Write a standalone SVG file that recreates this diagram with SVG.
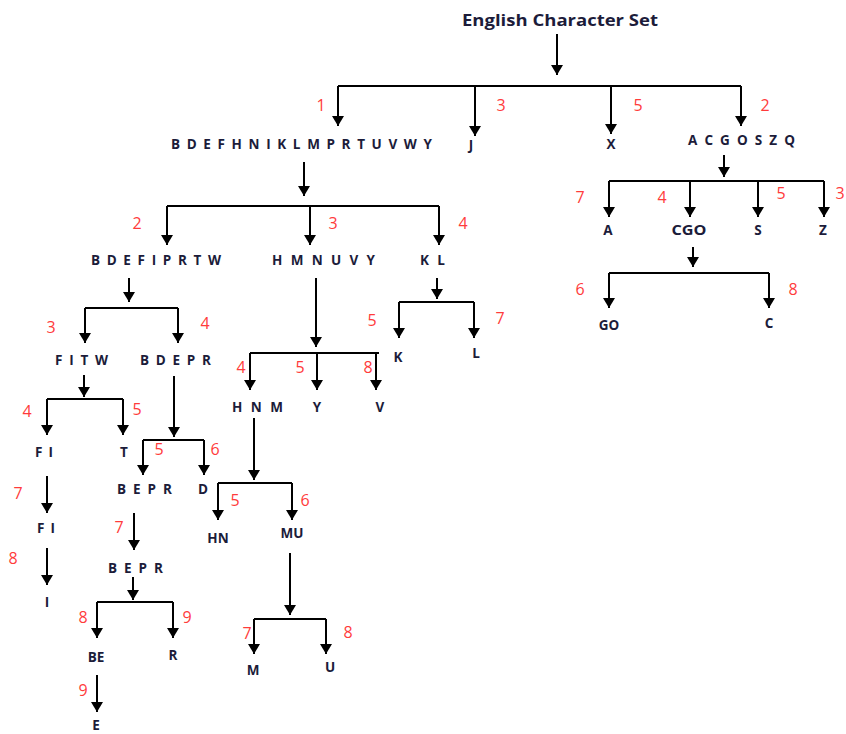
<svg xmlns="http://www.w3.org/2000/svg" width="846" height="734" viewBox="0 0 846 734">
<defs>
<marker id="ah" markerUnits="userSpaceOnUse" markerWidth="12" markerHeight="12" refX="10" refY="6" orient="auto">
<path d="M0,0 L10,6 L0,12 z" fill="#000"/>
</marker>
<style>
.n{font-family:"Open Sans","Liberation Sans",sans-serif;font-weight:bold;font-size:13.5px;fill:#1c1c3a}
.c{text-anchor:middle}
.r{font-family:"Open Sans","Liberation Sans",sans-serif;font-size:16px;fill:#ff3b3b;text-anchor:middle}
.t{font-family:"Open Sans","Liberation Sans",sans-serif;font-weight:bold;font-size:15.5px;fill:#1c1c3a}
.s{stroke:#000;stroke-width:2;fill:none}
.a{stroke:#000;stroke-width:2;fill:none;marker-end:url(#ah)}
</style>
</defs>
<rect width="846" height="734" fill="#fff"/>
<g id="connectors">
<path class="a" d="M557,34V75"/>
<path class="s" d="M338,86H741"/>
<path class="a" d="M338,86V126"/><path class="a" d="M475,86V136"/><path class="a" d="M611,86V134"/><path class="a" d="M741,86V126"/>
<path class="a" d="M304,162V196"/>
<path class="s" d="M167,206H439"/>
<path class="a" d="M167,206V245"/><path class="a" d="M310,206V245"/><path class="a" d="M439,206V245"/>
<path class="a" d="M724,155V177"/>
<path class="s" d="M609,181H824"/>
<path class="a" d="M609,181V217"/><path class="a" d="M690,181V217"/><path class="a" d="M758,181V217"/><path class="a" d="M824,181V217"/>
<path class="a" d="M693,247V267"/>
<path class="s" d="M609,273H769"/>
<path class="a" d="M609,273V308"/><path class="a" d="M769,273V308"/>
<path class="a" d="M129,278V302"/>
<path class="s" d="M85,308H178"/>
<path class="a" d="M85,308V343"/><path class="a" d="M178,308V343"/>
<path class="a" d="M316,278V347"/>
<path class="s" d="M250,353H379"/>
<path class="a" d="M250,353V390"/><path class="a" d="M317,353V390"/><path class="a" d="M376,353V390"/>
<path class="a" d="M437,278V299"/>
<path class="s" d="M399,302H474"/>
<path class="a" d="M399,302V338"/><path class="a" d="M474,302V338"/>
<path class="a" d="M84,375V397"/>
<path class="s" d="M47,399H123"/>
<path class="a" d="M47,399V435"/><path class="a" d="M123,399V435"/>
<path class="a" d="M174,376V437"/>
<path class="s" d="M143,440H204"/>
<path class="a" d="M143,440V475"/><path class="a" d="M204,440V475"/>
<path class="a" d="M254,418V480"/>
<path class="s" d="M218,483H292"/>
<path class="a" d="M218,483V520"/><path class="a" d="M292,483V520"/>
<path class="a" d="M47,476V513"/>
<path class="a" d="M47,548V585"/>
<path class="a" d="M134,513V550"/>
<path class="a" d="M133,577V600"/>
<path class="s" d="M97,602H173"/>
<path class="a" d="M97,602V638"/><path class="a" d="M173,602V638"/>
<path class="a" d="M97,675V712"/>
<path class="a" d="M290,553V615"/>
<path class="s" d="M254,619H326"/>
<path class="a" d="M254,619V654"/><path class="a" d="M326,619V654"/>
</g>
<g id="labels">
<text class="r" x="321" y="111">1</text><text class="r" x="501" y="111">3</text><text class="r" x="638" y="111">5</text><text class="r" x="765" y="111">2</text>
<text class="r" x="137" y="229">2</text><text class="r" x="333" y="229">3</text><text class="r" x="463" y="229">4</text>
<text class="r" x="580" y="203">7</text><text class="r" x="662" y="203">4</text><text class="r" x="781" y="199">5</text><text class="r" x="840" y="199">3</text>
<text class="r" x="580" y="295">6</text><text class="r" x="793" y="295">8</text>
<text class="r" x="51" y="333">3</text><text class="r" x="205" y="329">4</text>
<text class="r" x="372" y="326">5</text><text class="r" x="500" y="324">7</text>
<text class="r" x="241" y="373">4</text><text class="r" x="300" y="373">5</text><text class="r" x="368" y="373">8</text>
<text class="r" x="27" y="417">4</text><text class="r" x="137" y="415">5</text>
<text class="r" x="159" y="455">5</text><text class="r" x="215" y="455">6</text>
<text class="r" x="18" y="499">7</text><text class="r" x="119" y="533">7</text><text class="r" x="13" y="564">8</text>
<text class="r" x="235" y="506">5</text><text class="r" x="305" y="506">6</text>
<text class="r" x="83" y="623">8</text><text class="r" x="187" y="623">9</text><text class="r" x="83" y="696">9</text>
<text class="r" x="247" y="639">7</text><text class="r" x="348" y="638">8</text>
</g>
<g id="root"><text class="t" x="462" y="26" textLength="196" lengthAdjust="spacingAndGlyphs">English Character Set</text></g>
<g id="n-bdefhniklmprtuvwy"><text class="n" x="171" y="149" textLength="261" lengthAdjust="spacing">B D E F H N I K L M P R T U V W Y</text></g>
<g id="n-j"><text class="n c" x="471" y="150">J</text></g>
<g id="n-x"><text class="n c" x="611" y="149">X</text></g>
<g id="n-acgoszq"><text class="n" x="688" y="145" textLength="107" lengthAdjust="spacing">A C G O S Z Q</text></g>
<g id="n-bdefiprtw"><text class="n" x="91" y="265" textLength="130" lengthAdjust="spacing">B D E F I P R T W</text></g>
<g id="n-hmnuvy"><text class="n" x="272" y="265" textLength="103" lengthAdjust="spacing">H  M N U V Y</text></g>
<g id="n-kl"><text class="n" x="420" y="265" textLength="25" lengthAdjust="spacing">K L</text></g>
<g id="n-a"><text class="n c" x="608" y="235">A</text></g>
<g id="n-cgo"><text class="n c" x="689" y="235" textLength="35" lengthAdjust="spacingAndGlyphs">CGO</text></g>
<g id="n-s"><text class="n c" x="758" y="235">S</text></g>
<g id="n-z"><text class="n c" x="823" y="235">Z</text></g>
<g id="n-go"><text class="n c" x="609" y="330">GO</text></g>
<g id="n-c"><text class="n c" x="769" y="328">C</text></g>
<g id="n-fitw"><text class="n" x="55" y="365" textLength="53" lengthAdjust="spacing">F I T W</text></g>
<g id="n-bdepr"><text class="n" x="140" y="365" textLength="71" lengthAdjust="spacing">B D E P R</text></g>
<g id="n-k"><text class="n c" x="398" y="362">K</text></g>
<g id="n-l"><text class="n c" x="476" y="358">L</text></g>
<g id="n-hnm"><text class="n" x="232" y="412" textLength="51" lengthAdjust="spacing">H N M</text></g>
<g id="n-y"><text class="n c" x="317" y="412">Y</text></g>
<g id="n-v"><text class="n c" x="380" y="412">V</text></g>
<g id="n-fi"><text class="n" x="35" y="457" textLength="18" lengthAdjust="spacing">F I</text></g>
<g id="n-t"><text class="n c" x="124" y="457">T</text></g>
<g id="n-bepr"><text class="n" x="117" y="494" textLength="55" lengthAdjust="spacing">B E P R</text></g>
<g id="n-d"><text class="n c" x="203" y="494">D</text></g>
<g id="n-hn"><text class="n c" x="218" y="543">HN</text></g>
<g id="n-mu"><text class="n c" x="292" y="538">MU</text></g>
<g id="n-fi2"><text class="n" x="37" y="533" textLength="18" lengthAdjust="spacing">F I</text></g>
<g id="n-i"><text class="n c" x="47" y="607">I</text></g>
<g id="n-bepr2"><text class="n" x="108" y="573" textLength="55" lengthAdjust="spacing">B E P R</text></g>
<g id="n-be"><text class="n c" x="96" y="662">BE</text></g>
<g id="n-r"><text class="n c" x="173" y="660">R</text></g>
<g id="n-e"><text class="n c" x="96" y="730">E</text></g>
<g id="n-m"><text class="n c" x="253" y="675">M</text></g>
<g id="n-u"><text class="n c" x="330" y="672">U</text></g>
</svg>
